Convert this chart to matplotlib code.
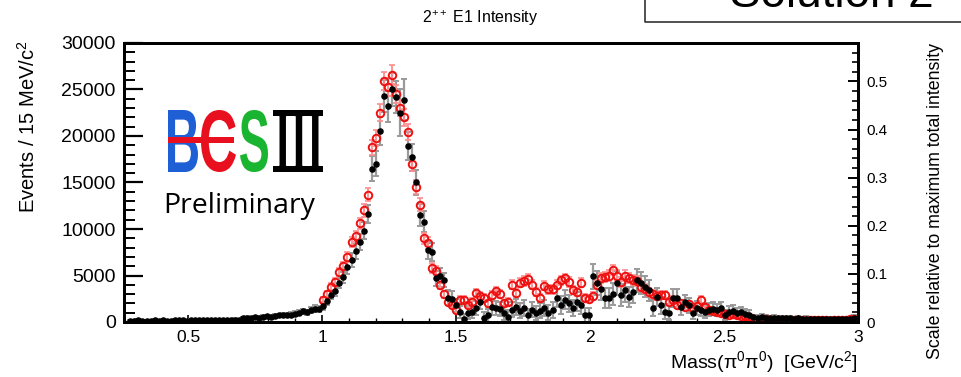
import numpy as np
import matplotlib
matplotlib.use("Agg")
import matplotlib.pyplot as plt
from matplotlib.ticker import MultipleLocator, FixedLocator
from matplotlib.textpath import TextPath
from matplotlib.patches import PathPatch, Rectangle
from matplotlib.font_manager import FontProperties
from matplotlib.transforms import Affine2D

# ---------------- data ----------------
FIRST_BIN_CENTER = 0.285   # GeV/c^2
BIN_WIDTH = 0.015          # 15 MeV/c^2
RED_START_BIN = 48         # red series starts at ~1.0 GeV

black_counts = [
    150, 120, 180, 140, 160, 130, 170, 150, 190, 160, 140, 200, 170, 180,
    150, 210, 190, 170, 230, 200, 180, 220, 250, 210, 240, 230, 260, 250,
    420, 450, 400, 500, 480, 550, 600, 580, 650, 700, 750, 720, 800, 900,
    1000, 1150, 1050, 1300, 1450, 1400,
    1700, 2300, 2900, 3300, 4200, 4800, 5900, 6700, 7600, 8600, 9800, 11600,
    16500, 17000, 20500, 24300, 23200, 25000, 24200, 22500, 23900, 18900,
    17700, 15000, 11500, 10800, 7700, 7500, 4700, 5000, 4500,
    2600, 2500, 1800, 1100, 300, 1000, 1100, 1500, 2200, 400, 750, 1600,
    1500, 1400, 1000, 550, 1300, 1600, 1200, 1500, 750, 1300, 1000, 1200,
    1500, 1000, 1300, 2600, 1800, 2400, 2000, 1500, 2200, 1800, 700, 750,
    4900, 4200, 3600, 2600, 2600, 3000, 4200, 2900, 3400, 2700, 3200, 4500,
    4200, 3800, 3400, 1500, 2700, 1800, 1100, 1000, 2600, 2600, 1600, 2100,
    1800, 1000, 1500, 1300, 1100, 1300, 1400, 1300, 1500, 750, 1100, 1200,
    1000, 1100, 900, 800,
    500, 450, 520, 480, 400, 450, 420, 380, 430, 400, 350, 380, 340, 360,
    320, 350, 300, 330, 280, 310, 300, 290, 330, 300, 350, 450,
]
black_errors = [
    90, 80, 100, 90, 90, 80, 100, 90, 100, 90, 90, 100, 90, 100,
    90, 110, 100, 90, 110, 100, 100, 110, 120, 110, 120, 110, 120, 120,
    150, 160, 150, 170, 170, 180, 190, 190, 200, 210, 220, 220, 230, 250,
    280, 300, 290, 320, 340, 340,
    380, 430, 480, 520, 580, 630, 700, 750, 800, 860, 920, 1000,
    1300, 1350, 1500, 1700, 1650, 1800, 1750, 2500, 2200, 1500,
    1450, 1300, 1150, 1100, 950, 950, 800, 800, 780,
    800, 800, 700, 650, 600, 700, 700, 750, 850, 650, 700, 800,
    800, 800, 750, 700, 800, 850, 800, 850, 700, 800, 750, 800,
    850, 800, 850, 1000, 950, 1000, 950, 900, 1000, 950, 800, 800,
    1300, 1250, 1200, 1100, 1100, 1150, 1250, 1150, 1200, 1100, 1150, 1250,
    1200, 1150, 1100, 900, 1000, 900, 800, 800, 950, 950, 800, 850,
    800, 700, 750, 700, 650, 700, 700, 650, 700, 550, 600, 600,
    550, 550, 500, 450,
    300, 280, 300, 280, 260, 270, 260, 250, 260, 250, 240, 250, 240, 240,
    230, 240, 220, 230, 220, 220, 220, 210, 230, 220, 240, 280,
]
red_counts = [
    2400, 3000, 3800, 4300, 5400, 6000, 7000, 8600, 9200, 10600, 12000, 13700,
    18800, 19800, 22500, 25900, 25300, 26600, 24500, 23000, 22000, 20400,
    17000, 14500, 12600, 9000, 8500, 5800, 5500, 4000, 3000, 2200, 1800, 1300,
    2400,
    2400, 1800, 2200, 3100, 2800, 2600, 2000, 2900, 3300, 3000, 2000, 2200,
    4000, 3100, 4200, 4400, 4600, 4000, 3200, 2600, 3900, 3500, 3500, 4000,
    4500, 4700, 4300, 3400, 3200, 4200, 2600, 2500,
    2800, 4000, 4700, 4800, 5000, 5600, 5000, 4300, 5000, 4700, 4500, 4400,
    3800, 3600, 3200, 3000, 2800, 2900, 2900, 2200, 2400, 1800, 2000, 1600,
    1900, 1500, 1700, 2400, 1600, 1300, 1200, 1100, 1000, 900, 800, 850,
    700, 600, 650, 500, 300,
    250, 200, 350, 150, 200, 250, 180, 220, 150, 200, 250, 180, 150, 200,
    180, 220, 250, 200, 150, 200, 180, 250, 200, 300, 350,
]
red_errors = [
    250, 300, 350, 380, 420, 450, 500, 550, 580, 620, 680, 720,
    800, 850, 900, 950, 950, 1000, 950, 900, 900, 850,
    800, 750, 700, 620, 600, 500, 480, 420, 380, 330, 300, 280,
    350,
    380, 330, 370, 420, 400, 390, 350, 410, 430, 410, 350, 370,
    480, 420, 490, 500, 510, 480, 430, 390, 470, 450, 450, 480,
    500, 510, 490, 440, 430, 490, 390, 380,
    400, 480, 520, 530, 540, 570, 540, 500, 540, 520, 510, 500,
    470, 460, 430, 420, 400, 410, 410, 360, 380, 330, 340, 310,
    330, 300, 320, 370, 310, 280, 270, 260, 250, 240, 230, 230,
    210, 200, 200, 180, 140,
    130, 120, 150, 100, 120, 130, 110, 120, 100, 120, 130, 110, 100, 120,
    110, 120, 130, 120, 100, 120, 110, 130, 120, 140, 150,
]

x_ticks = [0.5, 1, 1.5, 2, 2.5, 3]
x_tick_labels = ["0.5", "1", "1.5", "2", "2.5", "3"]
y_ticks = [0, 5000, 10000, 15000, 20000, 25000, 30000]
y_tick_labels = ["0", "5000", "10000", "15000", "20000", "25000", "30000"]
scale_ticks = [0, 0.1, 0.2, 0.3, 0.4, 0.5]
scale_tick_labels = ["0", "0.1", "0.2", "0.3", "0.4", "0.5"]

mass = FIRST_BIN_CENTER + BIN_WIDTH * np.arange(len(black_counts))
red_mass = mass[RED_START_BIN:]

# ---------------- style ----------------
FONT = ["Liberation Sans", "DejaVu Sans"]
plt.rcParams["font.family"] = FONT
plt.rcParams["mathtext.fontset"] = "custom"
plt.rcParams["mathtext.rm"] = "Liberation Sans"
plt.rcParams["mathtext.it"] = "Liberation Sans:italic"
plt.rcParams["mathtext.bf"] = "Liberation Sans:bold"

W, H = 962, 377
fig = plt.figure(figsize=(W / 100, H / 100), dpi=100)
L, R, T, B = 124, 858, 43, 322
ax = fig.add_axes([L / W, 1 - B / H, (R - L) / W, (B - T) / H])

ax.errorbar(mass, black_counts, yerr=black_errors, fmt="none",
            ecolor="#9a9a9a", elinewidth=1.6, capsize=2.2, capthick=1.4, zorder=2)
ax.errorbar(red_mass, red_counts, yerr=red_errors, fmt="none",
            ecolor="#ff8c8c", elinewidth=1.3, capsize=2.2, capthick=1.2, zorder=3)
ax.plot(red_mass, red_counts, "o", ms=5.4, mfc="none", mec="#ee1111",
        mew=1.4, zorder=4)
ax.plot(mass, black_counts, "o", ms=3.7, color="black", mec="black", zorder=5)

ax.set_xlim(0.261, 3.0)
ax.set_ylim(0, 30000)
ax.xaxis.set_major_locator(FixedLocator(x_ticks))
ax.set_xticklabels(x_tick_labels)
ax.xaxis.set_minor_locator(MultipleLocator(0.1))
ax.yaxis.set_major_locator(FixedLocator(y_ticks))
ax.set_yticklabels(y_tick_labels)
ax.yaxis.set_minor_locator(MultipleLocator(1000))
ax.tick_params(axis="y", which="major", direction="in", length=14, width=1.6,
               labelsize=14, pad=6, right=False)
ax.tick_params(axis="y", which="minor", direction="in", length=8, width=1.4,
               right=False)
ax.tick_params(axis="x", which="major", direction="in", length=5, width=1.2,
               labelsize=12.5, pad=6, top=False)
ax.tick_params(axis="x", which="minor", direction="in", length=3, width=1.0,
               top=False)
for sp in ax.spines.values():
    sp.set_linewidth(2.0)

ax2 = ax.twinx()
ax2.set_ylim(0, 0.58)
ax2.yaxis.set_major_locator(FixedLocator(scale_ticks))
ax2.set_yticklabels(scale_tick_labels)
ax2.yaxis.set_minor_locator(MultipleLocator(0.02))
ax2.tick_params(axis="y", which="major", direction="in", length=7, width=1.4,
                labelsize=11, pad=6)
ax2.tick_params(axis="y", which="minor", direction="in", length=4, width=1.2)
for sp in ax2.spines.values():
    sp.set_linewidth(2.0)

# ---------------- texts ----------------
fig.text(480 / W, 1 - 18 / H, "2$^{++}$ E1 Intensity", ha="center", va="center",
         fontsize=11.5)
fig.text(28 / W, 1 - 40 / H, "Events / 15 MeV/c$^{2}$", rotation=90,
         ha="center", va="top", fontsize=14.5)
fig.text(R / W, 1 - 362 / H, "Mass(π$^{0}$π$^{0}$)  [GeV/c$^{2}$]",
         ha="right", va="center", fontsize=14)
fig.text(936 / W, 1 - 201 / H, "Scale relative to maximum total intensity",
         rotation=90, ha="center", va="center", fontsize=12.8)

# overlay in pixel coordinates for logo / decorations
ov = fig.add_axes([0, 0, 1, 1], facecolor="none")
ov.set_xlim(0, W)
ov.set_ylim(H, 0)
ov.axis("off")


def fit_text(s, box, color, prop):
    tp = TextPath((0, 0), s, size=100, prop=prop)
    bb = tp.get_extents()
    x0, y0, x1, y1 = box
    sx = (x1 - x0) / bb.width
    sy = (y1 - y0) / bb.height
    tr = Affine2D().translate(-bb.x0, -bb.y0).scale(sx, -sy).translate(x0, y1)
    ov.add_patch(PathPatch(tr.transform_path(tp), fc=color, ec="none", lw=0))


bold = FontProperties(family="Liberation Sans", weight="bold")
serif_bold = FontProperties(family="Liberation Serif", weight="bold")
fit_text("B", (168, 110, 198, 172), "#1f5fd6", bold)
fit_text("C", (201, 110, 236, 172), "#e8101e", bold)
ov.add_patch(Rectangle((168, 137), 66, 6, fc="#e8101e", ec="none"))
fit_text("S", (240, 110, 268, 172), "#19b430", bold)
fit_text("III", (276, 112, 322, 170), "black", serif_bold)
ov.add_patch(Rectangle((273, 110), 50, 6, fc="black", ec="none"))
ov.add_patch(Rectangle((273, 166), 50, 6, fc="black", ec="none"))
ov.text(163, 213, "Preliminary", ha="left", va="baseline", fontsize=20.5,
        family="Open Sans", color="black")

# "Solution 2" box cut at the top edge (as in the reference)
ov.plot([645, 645, 962], [0, 22, 22], color="#333333", lw=1.2,
        solid_capstyle="butt")
ov.text(832, 7, "Solution 2", ha="center", va="baseline", fontsize=33,
        color="black")

fig.savefig("out.png", dpi=100)
